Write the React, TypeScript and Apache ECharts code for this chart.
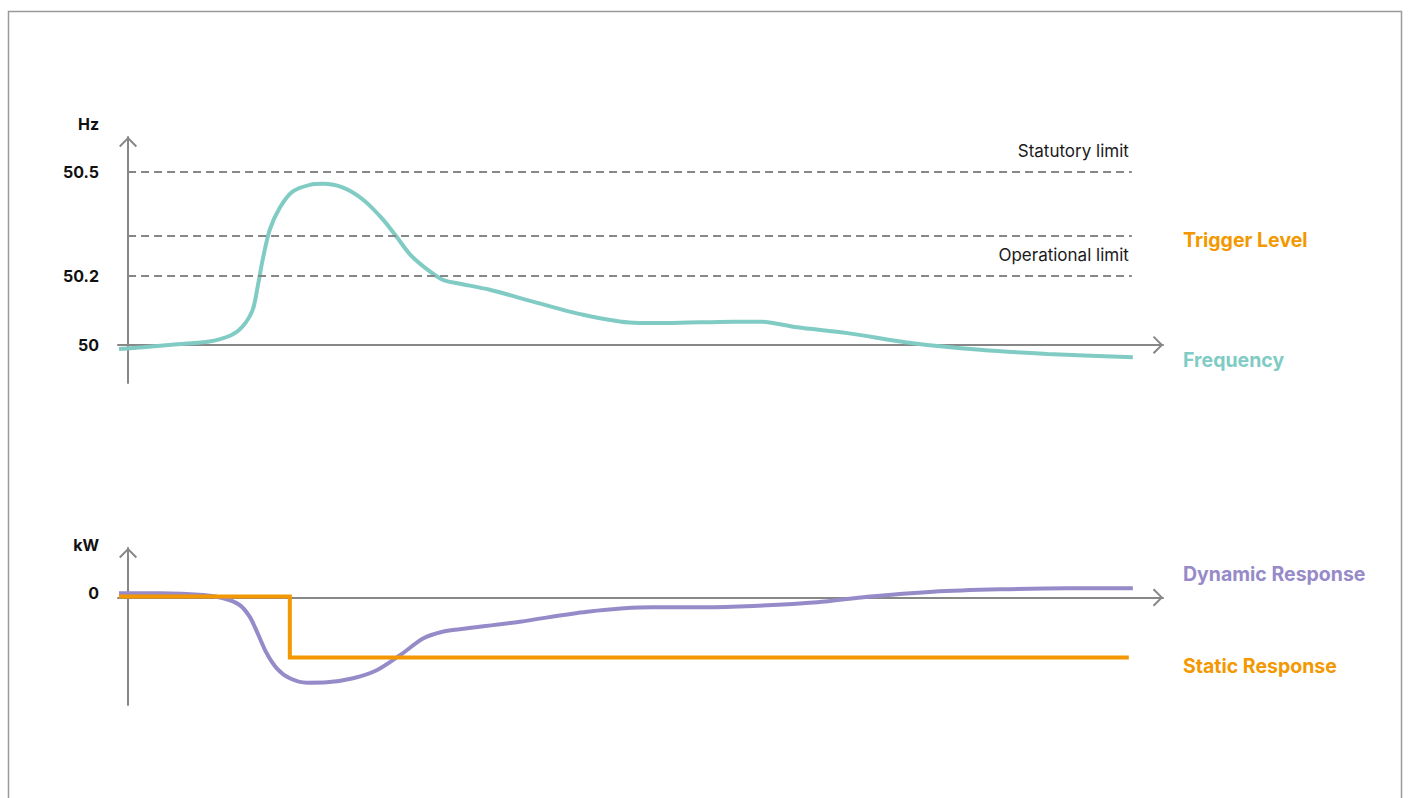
import React, { useEffect, useRef } from "react";
import * as echarts from "echarts";

// ---- data ----
const freqT = [-0.9, 1.5, 4.9, 8.1, 10.2, 11.4, 12.4, 12.9, 13.4, 14.1, 15.1, 16.4, 18.1, 19.4, 21.4, 23.4, 25.4, 26.8, 28.1, 29.8, 31.3, 32.8, 36.0, 40.3, 45.3, 50.3, 53.6, 60.2, 62.9, 66.6, 71.6, 78.1, 84.8, 91.5, 100];
const freqHz = [49.988, 49.993, 50.002, 50.010, 50.027, 50.053, 50.101, 50.168, 50.246, 50.332, 50.396, 50.443, 50.462, 50.465, 50.454, 50.419, 50.361, 50.309, 50.260, 50.217, 50.188, 50.178, 50.159, 50.125, 50.087, 50.064, 50.063, 50.067, 50.067, 50.051, 50.034, 50.005, 49.986, 49.974, 49.964];

const dynT = [-0.9, 3.2, 7.5, 9.5, 11.1, 12.1, 12.9, 13.8, 14.8, 16.1, 17.8, 19.8, 22.4, 24.8, 27.1, 29.4, 31.3, 33.0, 39.0, 45.7, 52.2, 57.2, 62.2, 68.6, 73.6, 80.1, 86.8, 93.5, 100];
const dynKW = [0.42, 0.42, 0.25, -0.08, -0.75, -1.92, -3.58, -5.58, -7.08, -8.08, -8.52, -8.48, -8.08, -7.25, -5.75, -4.08, -3.42, -3.18, -2.42, -1.42, -0.98, -0.98, -0.85, -0.48, 0.08, 0.58, 0.82, 0.92, 0.92];

const staticT = [-0.9, 16.1, 16.1, 99.6];
const staticKW = [0.1, 0.1, -6, -6];

const NOMINAL_HZ = 50;
const hzTicks = [50, 50.2, 50.5];
const kwTicks = [0];
const limitNames = ["Statutory limit", "Trigger Level", "Operational limit"];
const limitHz = [50.5, 50.315, 50.2];
const limitShowLabel = [true, false, true];
const limitEndT = 99.9;

const rightLabels = ["Trigger Level", "Frequency", "Dynamic Response", "Static Response"];

// ---- styles ----
const AXIS_COLOR = "#878787";
const TEAL = "#80cbc4";
const PURPLE = "#968bc8";
const ORANGE = "#f39800";
const FONT = "Inter, 'Noto Sans', sans-serif";
const CHEVRON = "path://M0,9.6 L9,0.6 L18,9.6 L16.6,11 L9,3.4 L1.4,11 Z";

const axisLineStyle = {
  show: true,
  onZero: true,
  lineStyle: { color: AXIS_COLOR, width: 2 },
  symbol: ["none", CHEVRON],
  symbolSize: [18, 11],
  symbolOffset: [0, -5],
};

const tickText = {
  fontSize: 16,
  fontWeight: 700,
  color: "#111",
  fontFamily: FONT,
};

export default function App() {
  const ref = useRef<HTMLDivElement>(null);
  useEffect(() => {
    if (!ref.current) return;
    const chart = echarts.init(ref.current, null, { renderer: "svg" });
    const fmtHz = (v: number) => String(Math.round((NOMINAL_HZ + v) * 10) / 10);
    const option: any = {
      animation: false,
      grid: [
        { left: 118, top: 137, width: 1045, height: 246 },
        { left: 118, top: 548, width: 1045, height: 157 },
      ],
      xAxis: [0, 1].map((i) => ({
        type: "value",
        gridIndex: i,
        min: -1,
        max: 103,
        axisLine: axisLineStyle,
        axisTick: { show: false },
        axisLabel: { show: false },
        splitLine: { show: false },
      })),
      yAxis: [
        {
          type: "value",
          gridIndex: 0,
          min: -0.11,
          max: 0.6,
          name: "Hz",
          nameLocation: "end",
          nameGap: 13,
          nameTextStyle: {
            ...tickText,
            align: "right",
            verticalAlign: "middle",
            padding: [0, 29, 0, 0],
          },
          axisLine: axisLineStyle,
          axisTick: { show: false },
          splitLine: { show: false },
          axisLabel: {
            ...tickText,
            customValues: hzTicks.map((v) => v - NOMINAL_HZ),
            formatter: (v: number) => fmtHz(v),
            margin: 19,
          },
        },
        {
          type: "value",
          gridIndex: 1,
          min: -10.75,
          max: 4.95,
          name: "kW",
          nameLocation: "end",
          nameGap: 3,
          nameTextStyle: {
            ...tickText,
            align: "right",
            verticalAlign: "middle",
            padding: [0, 29, 0, 0],
          },
          axisLine: axisLineStyle,
          axisTick: { show: false },
          splitLine: { show: false },
          axisLabel: {
            ...tickText,
            customValues: kwTicks,
            formatter: (v: number) => String(v),
            margin: 19,
            verticalAlign: "bottom",
            lineHeight: 10,
          },
        },
      ],
      series: [
        {
          name: "Frequency",
          type: "line",
          xAxisIndex: 0,
          yAxisIndex: 0,
          data: freqT.map((t, i) => [t, freqHz[i] - NOMINAL_HZ]),
          smooth: 0.3,
          showSymbol: false,
          lineStyle: { color: TEAL, width: 4 },
          z: 3,
          markLine: {
            silent: true,
            symbol: ["none", "none"],
            lineStyle: { type: [8, 5], color: AXIS_COLOR, width: 2 },
            label: {
              position: "insideEndTop",
              distance: [3, 12],
              color: "#1a1a1a",
              fontSize: 17,
              fontFamily: FONT,
              formatter: (p: any) => p.name,
            },
            data: limitHz.map((v, i) => [
              {
                name: limitNames[i],
                coord: [0, v - NOMINAL_HZ],
                label: { show: limitShowLabel[i] },
              },
              { coord: [limitEndT, v - NOMINAL_HZ] },
            ]),
          },
        },
        {
          name: "Dynamic Response",
          type: "line",
          xAxisIndex: 1,
          yAxisIndex: 1,
          data: dynT.map((t, i) => [t, dynKW[i]]),
          smooth: 0.3,
          showSymbol: false,
          lineStyle: { color: PURPLE, width: 4 },
          z: 3,
        },
        {
          name: "Static Response",
          type: "line",
          xAxisIndex: 1,
          yAxisIndex: 1,
          data: staticT.map((t, i) => [t, staticKW[i]]),
          showSymbol: false,
          lineStyle: { color: ORANGE, width: 4, join: "miter" },
          z: 4,
        },
      ],
      graphic: [
        {
          type: "rect",
          silent: true,
          shape: { x: 8.5, y: 11.5, width: 1393, height: 820 },
          style: { fill: "none", stroke: "#9a9a9a", lineWidth: 1.5 },
        },
        ...rightLabels.map((text, i) => ({
          type: "text",
          silent: true,
          x: 1183,
          y: [240, 360, 574, 666][i],
          style: {
            text,
            fill: [ORANGE, TEAL, PURPLE, ORANGE][i],
            fontSize: 19.5,
            fontWeight: 700,
            fontFamily: FONT,
            verticalAlign: "middle",
            textVerticalAlign: "middle",
          },
        })),
      ],
    };
    chart.setOption(option);
    return () => chart.dispose();
  }, []);
  return (
    <div
      ref={ref}
      style={{ position: "absolute", left: 0, top: 0, width: 1408, height: 798 }}
    />
  );
}
